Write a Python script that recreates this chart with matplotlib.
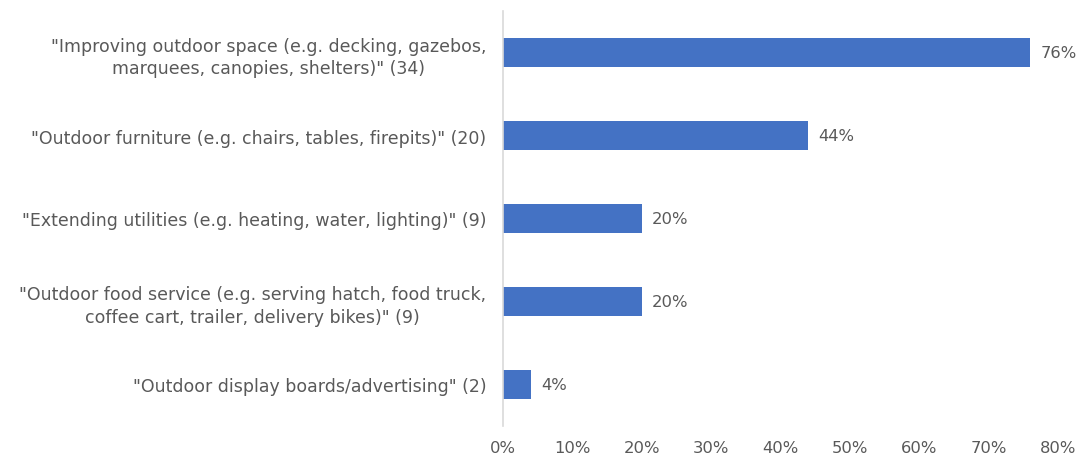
import matplotlib
matplotlib.use("Agg")
import matplotlib.pyplot as plt

categories = [
    '"Improving outdoor space (e.g. decking, gazebos,\nmarquees, canopies, shelters)" (34)',
    '"Outdoor furniture (e.g. chairs, tables, firepits)" (20)',
    '"Extending utilities (e.g. heating, water, lighting)" (9)',
    '"Outdoor food service (e.g. serving hatch, food truck,\ncoffee cart, trailer, delivery bikes)" (9)',
    '"Outdoor display boards/advertising" (2)',
]
values = [76, 44, 20, 20, 4]
xticks = [0, 10, 20, 30, 40, 50, 60, 70, 80]

plt.rcParams['font.family'] = ['DejaVu Sans']
text_color = '#595959'
fs = 12.5
fs_num = 11.8

fig = plt.figure(figsize=(10.79, 4.64), dpi=100)
ax = fig.add_axes([503 / 1079, 1 - 427 / 464, 555 / 1079, 415 / 464])

ypos = list(range(len(categories)))
ax.barh(ypos, values, height=0.36, color='#4472C4')
for y, v in zip(ypos, values):
    ax.text(v + 1.5, y, f'{v}%', va='center', ha='left', fontsize=fs_num, color=text_color)

ax.set_ylim(len(categories) - 0.5, -0.5)
ax.set_xlim(0, 80)
ax.set_yticks(ypos)
ax.set_yticklabels(categories, fontsize=fs, color=text_color,
                   multialignment='center', linespacing=1.3)
ax.set_xticks(xticks)
ax.set_xticklabels([f'{t}%' for t in xticks], fontsize=fs_num, color=text_color)
ax.tick_params(axis='both', length=0)
ax.tick_params(axis='y', pad=12)
ax.tick_params(axis='x', pad=10)

for s in ['top', 'right', 'bottom']:
    ax.spines[s].set_visible(False)
ax.spines['left'].set_color('#d9d9d9')
ax.spines['left'].set_linewidth(1.2)

fig.savefig('out.png', dpi=100)
